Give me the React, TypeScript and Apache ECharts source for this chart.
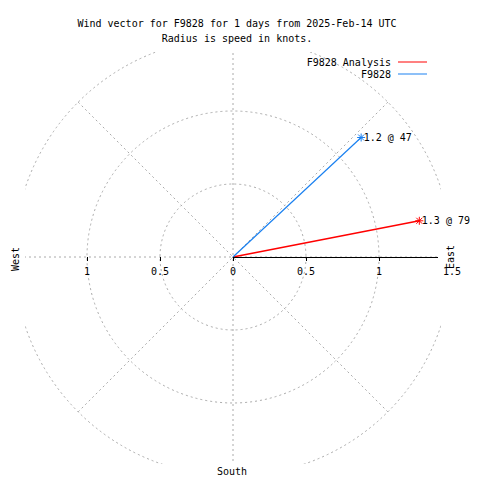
import React, { useEffect, useRef } from "react";
import * as echarts from "echarts";

const TITLE = "Wind vector for F9828 for 1 days from 2025-Feb-14 UTC";
const SUBTITLE = "Radius is speed in knots.";
const SERIES_NAMES = ["F9828 Analysis", "F9828"];
const SPEEDS = [1.3, 1.2];
const DIRECTIONS = [79, 47];
const SERIES_COLORS = ["#ff0000", "#1a80f0"];
const RADIUS_MAX = 1.5;
const RADIUS_STEP = 0.5;
const EAST_TICKS = [0, 0.5, 1];
const WEST_TICKS = [-1, -0.5];
const COMPASS = ["West", "East", "South"];

const FONT = "DejaVu Sans Mono";
const CX = 233;
const CY = 257;
const R = 219;
const CLIP = { left: 25, right: 441, top: 52, bottom: 464 };

export default function App() {
  const ref = useRef<HTMLDivElement>(null);
  useEffect(() => {
    if (!ref.current) return;
    const chart = echarts.init(ref.current, null, { renderer: "svg" });
    const star = "path://M4,0L4,8M0,4L8,4M1,1L7,7M1,7L7,1";
    const gridLine = () => ({ show: true, lineStyle: { color: "#aaaaaa", type: [2, 3], width: 1, opacity: 1 } });
    const series = SERIES_NAMES.map((name, i) => ({
      name,
      type: "line",
      coordinateSystem: "polar",
      polarIndex: 0,
      color: SERIES_COLORS[i],
      lineStyle: { color: SERIES_COLORS[i], width: i === 0 ? 1.5 : 1.2 },
      itemStyle: { color: SERIES_COLORS[i], borderColor: SERIES_COLORS[i], borderWidth: 1 },
      showSymbol: true,
      z: 5,
      data: [
        { value: [0, DIRECTIONS[i]], symbol: "none" },
        {
          value: [SPEEDS[i], DIRECTIONS[i]],
          symbol: star,
          symbolSize: 8,
          label: {
            show: true,
            position: "right",
            distance: -2,
            formatter: `${SPEEDS[i]} @ ${DIRECTIONS[i]}`,
            color: "#000",
            fontFamily: FONT,
            fontSize: 10,
          },
        },
      ],
    }));
    const masks = [
      { x: 0, y: 0, width: 480, height: CLIP.top },
      { x: 0, y: CLIP.bottom, width: 480, height: 480 - CLIP.bottom },
      { x: 0, y: 0, width: CLIP.left, height: 480 },
      { x: CLIP.right, y: 0, width: 480 - CLIP.right, height: 480 },
    ].map((s) => ({ type: "rect", z: 1, shape: s, style: { fill: "#fff" } }));
    const textStyle = { font: `10px "${FONT}"`, fill: "#000", align: "center", verticalAlign: "middle" };
    const option: any = {
      animation: false,
      backgroundColor: "#fff",
      title: {
        text: TITLE,
        subtext: SUBTITLE,
        left: 232,
        textAlign: "center",
        top: 12,
        itemGap: 2,
        z: 20,
        textStyle: { fontFamily: FONT, fontSize: 10, fontWeight: "normal", color: "#000", lineHeight: 13 },
        subtextStyle: { fontFamily: FONT, fontSize: 10, color: "#000", lineHeight: 13 },
      },
      legend: SERIES_NAMES.map((name, i) => ({
        data: [name],
        orient: "vertical",
        right: 53,
        top: 57 + i * 12,
        align: "right",
        icon: "rect",
        itemWidth: 29,
        itemHeight: 1,
        itemGap: 0,
        padding: 0,
        selectedMode: false,
        itemStyle: { borderWidth: 0 },
        z: 20,
        textStyle: { fontFamily: FONT, fontSize: 10, color: "#000", padding: [0, 2, 0, 0] },
      })),
      polar: [{ center: [CX, CY], radius: R }],
      angleAxis: [
        {
          polarIndex: 0,
          type: "value",
          min: 0,
          max: 360,
          interval: 45,
          startAngle: 90,
          clockwise: true,
          axisLine: { show: false },
          axisTick: { show: false },
          axisLabel: { show: false },
          splitLine: gridLine(),
          z: 0,
        },
      ],
      radiusAxis: [
        {
          polarIndex: 0,
          type: "value",
          min: 0,
          max: RADIUS_MAX,
          interval: RADIUS_STEP,
          axisLine: { show: false },
          axisTick: { show: false },
          axisLabel: { show: false },
          splitLine: gridLine(),
          z: 0,
        },
      ],
      grid: [
        { left: CX, width: R, top: CY - 100, height: 100 },
        { left: CX - R, width: R, top: CY - 100, height: 100 },
      ],
      xAxis: [
        {
          gridIndex: 0,
          type: "value",
          min: 0,
          max: RADIUS_MAX,
          interval: RADIUS_STEP,
          z: 10,
          axisLine: { show: true, onZero: false, lineStyle: { color: "#000", width: 1 } },
          axisTick: { show: true, length: 4, customValues: EAST_TICKS, lineStyle: { color: "#000" } },
          axisLabel: { show: true, margin: 9, color: "#000", fontFamily: FONT, fontSize: 10 },
          splitLine: { show: false },
        },
        {
          gridIndex: 1,
          type: "value",
          min: -RADIUS_MAX,
          max: 0,
          interval: RADIUS_STEP,
          z: 10,
          axisLine: { show: false, onZero: false },
          axisTick: { show: true, length: 4, customValues: WEST_TICKS, lineStyle: { color: "#000" } },
          axisLabel: {
            show: true,
            margin: 9,
            customValues: WEST_TICKS,
            color: "#000",
            fontFamily: FONT,
            fontSize: 10,
            formatter: (v: number) => String(Math.abs(v)),
          },
          splitLine: { show: false },
        },
      ],
      yAxis: [
        { gridIndex: 0, type: "value", show: false },
        { gridIndex: 1, type: "value", show: false },
      ],
      graphic: [
        ...masks,
        { type: "rect", z: 11, shape: { x: 438, y: 251, width: 24, height: 12 }, style: { fill: "#fff" } },
        { type: "text", z: 12, x: 15, y: 259, rotation: Math.PI / 2, style: { text: COMPASS[0], ...textStyle } },
        { type: "text", z: 12, x: 450, y: 257, rotation: Math.PI / 2, style: { text: COMPASS[1], ...textStyle } },
        { type: "text", z: 12, x: 232, y: 471, style: { text: COMPASS[2], ...textStyle } },
      ],
      series,
    };
    chart.setOption(option);
    return () => chart.dispose();
  }, []);
  return (
    <div
      ref={ref}
      style={{ position: "fixed", left: 0, top: 0, width: 480, height: 480 }}
    />
  );
}
